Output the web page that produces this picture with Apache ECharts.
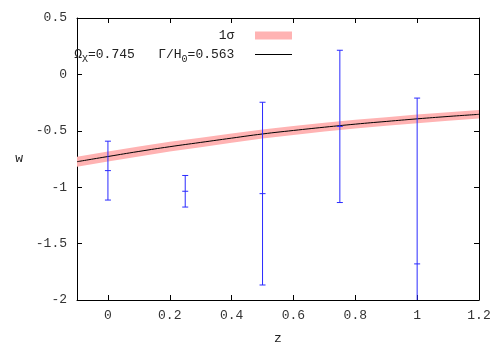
<!DOCTYPE html>
<html>
<head>
<meta charset="utf-8">
<script src="https://cdn.jsdelivr.net/npm/echarts@6/dist/echarts.min.js"></script>
<style>
  html, body { margin: 0; padding: 0; background: #fff; }
  #chart { width: 500px; height: 350px; }
</style>
</head>
<body>
<div id="chart"></div>
<script>
// best-fit curve w(z)
const curveZ = [-0.1, 0, 0.1, 0.2, 0.3, 0.4, 0.5, 0.6, 0.7, 0.8, 0.9, 1.0, 1.1, 1.2];
const curveW = [-0.774, -0.728, -0.683, -0.641, -0.603, -0.565, -0.528, -0.497, -0.468, -0.441, -0.417, -0.394, -0.373, -0.354];
// 1 sigma half width of the band
const bandHalf = [0.045, 0.045, 0.044, 0.043, 0.042, 0.041, 0.040, 0.040, 0.039, 0.039, 0.038, 0.038, 0.038, 0.038];

// data points with error bars
const pointZ = [0, 0.25, 0.5, 0.75, 1.0];
const pointW = [-0.853, -1.036, -1.057, -0.461, -1.68];
const pointErr = [0.261, 0.14, 0.81, 0.675, 1.47];

const xTicks = [0, 0.2, 0.4, 0.6, 0.8, 1, 1.2];

const fontFamily = '"Liberation Mono", "DejaVu Sans Mono", monospace';

const chart = echarts.init(document.getElementById('chart'));

const curveData = curveZ.map((z, i) => [z, curveW[i]]);
const bandData = curveZ.map((z, i) => [z, curveW[i] - bandHalf[i], curveW[i] + bandHalf[i]]);
const errData = pointZ.map((z, i) => [z, pointW[i], pointW[i] - pointErr[i], pointW[i] + pointErr[i]]);

const label2 = '{t|Ω}{sub|X}{t|=0.745   Γ/H}{sub|0}{t|=0.563  }';

chart.setOption({
  animation: false,
  backgroundColor: '#fff',
  grid: { left: 77, right: 21, top: 18, bottom: 45 },
  legend: {
    orient: 'vertical',
    right: 203,
    top: 24,
    align: 'right',
    itemWidth: 37,
    itemHeight: 8,
    itemGap: 6,
    textStyle: {
      fontFamily: fontFamily,
      fontSize: 13,
      color: '#222',
      rich: {
        t: { fontFamily: fontFamily, fontSize: 13, color: '#222' },
        sub: { fontFamily: fontFamily, fontSize: 10, color: '#222', padding: [9, 0, 0, 0] },
      },
    },
    formatter(name) {
      return name === 'curve' ? label2 : '{t|' + name + '  }';
    },
    data: [
      { name: '1σ', icon: 'rect', itemStyle: { color: '#ffb3b3' } },
      { name: 'curve', icon: 'path://M0,0 L40,0 L40,1.2 L0,1.2 Z', itemStyle: { color: '#000' } },
    ],
  },
  xAxis: [
    {
      type: 'value',
      min: -0.1,
      max: 1.2,
      position: 'bottom',
      name: 'z',
      nameLocation: 'middle',
      nameGap: 32,
      nameTextStyle: { fontFamily: fontFamily, fontSize: 13, color: '#222' },
      axisLine: { onZero: false, lineStyle: { color: '#000', width: 1 } },
      axisTick: { inside: true, length: 5, customValues: xTicks, lineStyle: { color: '#000' } },
      axisLabel: {
        customValues: xTicks,
        margin: 9,
        fontFamily: fontFamily,
        fontSize: 13,
        color: '#333',
        formatter: (v) => String(Math.round(v * 10) / 10),
      },
      splitLine: { show: false },
    },
    {
      type: 'value',
      min: -0.1,
      max: 1.2,
      position: 'top',
      axisLine: { onZero: false, lineStyle: { color: '#000', width: 1 } },
      axisTick: { inside: true, length: 5, customValues: xTicks, lineStyle: { color: '#000' } },
      axisLabel: { show: false },
      splitLine: { show: false },
    },
  ],
  yAxis: [
    {
      type: 'value',
      min: -2,
      max: 0.5,
      interval: 0.5,
      position: 'left',
      name: 'w',
      nameLocation: 'middle',
      nameRotate: 0,
      nameGap: 54,
      nameTextStyle: { fontFamily: fontFamily, fontSize: 13, color: '#222' },
      axisLine: { show: true, onZero: false, lineStyle: { color: '#000', width: 1 } },
      axisTick: { show: true, inside: true, length: 5, lineStyle: { color: '#000' } },
      axisLabel: { margin: 10, fontFamily: fontFamily, fontSize: 13, color: '#333' },
      splitLine: { show: false },
    },
    {
      type: 'value',
      min: -2,
      max: 0.5,
      interval: 0.5,
      position: 'right',
      axisLine: { show: true, onZero: false, lineStyle: { color: '#000', width: 1 } },
      axisTick: { show: true, inside: true, length: 5, lineStyle: { color: '#000' } },
      axisLabel: { show: false },
      splitLine: { show: false },
    },
  ],
  series: [
    {
      name: '1σ',
      type: 'custom',
      xAxisIndex: 0,
      yAxisIndex: 0,
      data: bandData,
      encode: { x: 0, y: [1, 2] },
      z: 1,
      renderItem(params, api) {
        if (params.dataIndex !== 0) return null;
        const upper = bandData.map((d) => api.coord([d[0], d[2]]));
        const lower = bandData.map((d) => api.coord([d[0], d[1]])).reverse();
        return {
          type: 'polygon',
          shape: { points: upper.concat(lower), smooth: 0 },
          style: { fill: '#ffb3b3', stroke: null },
        };
      },
    },
    {
      name: 'curve',
      type: 'line',
      data: curveData,
      smooth: true,
      symbol: 'none',
      showSymbol: false,
      z: 3,
      lineStyle: { color: '#000', width: 1 },
      itemStyle: { color: '#000' },
    },
    {
      name: 'data',
      type: 'custom',
      data: errData,
      encode: { x: 0, y: [1, 2, 3] },
      clip: true,
      z: 4,
      renderItem(params, api) {
        const z = api.value(0);
        const mid = api.coord([z, api.value(1)]);
        const lo = api.coord([z, api.value(2)]);
        const hi = api.coord([z, api.value(3)]);
        const cap = 3;
        const style = { stroke: '#2a2aff', lineWidth: 1 };
        return {
          type: 'group',
          children: [
            { type: 'line', shape: { x1: mid[0], y1: lo[1], x2: mid[0], y2: hi[1] }, style },
            { type: 'line', shape: { x1: mid[0] - cap, y1: lo[1], x2: mid[0] + cap, y2: lo[1] }, style },
            { type: 'line', shape: { x1: mid[0] - cap, y1: hi[1], x2: mid[0] + cap, y2: hi[1] }, style },
            { type: 'line', shape: { x1: mid[0] - cap, y1: mid[1], x2: mid[0] + cap, y2: mid[1] }, style },
          ],
        };
      },
    },
  ],
});
</script>
</body>
</html>
